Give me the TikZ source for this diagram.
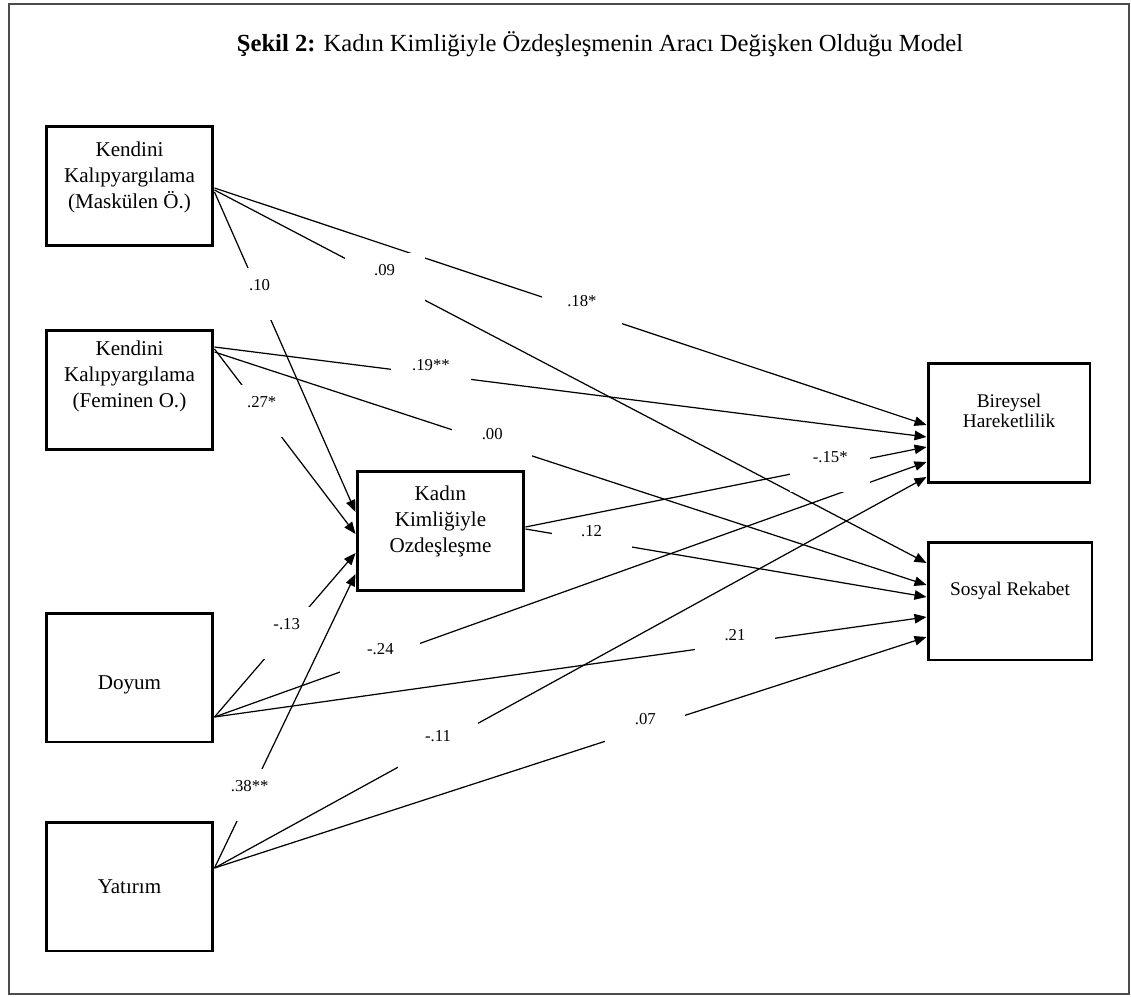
\documentclass[tikz,border=0pt]{standalone}
\usepackage{fontspec}
\setmainfont{Liberation Serif}
\usetikzlibrary{arrows.meta}

\begin{document}
\begin{tikzpicture}[
    x=0.02cm, y=-0.02cm,
    block/.style={draw, line width=1.7pt, minimum width=3.34cm, minimum height=2.4cm, align=center, font=\fontsize{12}{14.8}\selectfont},
    outcome/.style={block, minimum width=3.24cm, font=\fontsize{11}{11.5}\selectfont},
    link/.style={-{Triangle[length=0.24cm, width=0.19cm]}, line width=0.7pt},
    coef/.style={fill=white, inner sep=0pt, minimum width=1.6cm, minimum height=1.04cm, text depth=0.36cm, font=\fontsize{9.5}{11}\selectfont}
]
    % Frame and title
    \useasboundingbox (0,0) rectangle (1131,996);
    \draw[black!70, line width=1.2pt] (9,4) rectangle (1129,994);
    \node[font=\fontsize{14}{16}\selectfont] (title) at (600,44) {\textbf{Şekil 2:} Kadın Kimliğiyle Özdeşleşmenin Aracı Değişken Olduğu Model};

    % Predictors (left side)
    \node[block, text depth=0.42cm] (km) at (129.5,186) {Kendini\\Kalıpyargılama\\(Maskülen Ö.)};
    \node[block, text depth=0.62cm] (kf) at (129.5,390) {Kendini\\Kalıpyargılama\\(Feminen O.)};
    \node[block, minimum height=2.58cm, text height=0.57cm] (doyum) at (129.5,677.5) {Doyum};
    \node[block, minimum height=2.58cm] (yatirim) at (129.5,886.5) {Yatırım};

    % Mediator
    \node[block, text depth=0.48cm] (kadin) at (440.5,531) {Kadın\\Kimliğiyle\\Ozdeşleşme};

    % Outcomes (right side)
    \node[outcome, text depth=0.48cm] (bireysel) at (1009,423) {Bireysel\\Hareketlilik};
    \node[outcome, minimum width=3.28cm, minimum height=2.36cm, text depth=0.48cm] (sosyal) at (1010,601) {Sosyal Rekabet};

    % Paths
    \draw[link] (km.east |- 0,188) -- node[coef, pos=0.516] {.18*} (bireysel.west |- 0,425);
    \draw[link] (km.east |- 0,190) -- node[coef, pos=0.239] {.09} (sosyal.west |- 0,563);
    \draw[link] (kf.east |- 0,349) -- node[coef, pos=0.335] {.27*} (kadin.west |- 0,534);
    \draw[link] (km.east |- 0,192) -- node[coef, pos=0.32] {.10} (kadin.west |- 0,512);
    \draw[link] (kf.east |- 0,347) -- node[coef, pos=0.304] {.19**} (bireysel.west |- 0,437);
    \draw[link] (kf.east |- 0,352) -- node[coef, pos=0.39] {.00} (sosyal.west |- 0,585);
    \draw[link] (kadin.east |- 0,529) -- node[coef, pos=0.165] {.12} (sosyal.west |- 0,597);
    \draw[link] (doyum.east |- 0,717) -- node[coef, pos=0.233] {-.24} (bireysel.west |- 0,462);
    \draw[link] (kadin.east |- 0,527) -- node[coef, pos=0.76] {-.15*} (bireysel.west |- 0,447);
    \draw[link] (doyum.east |- 0,717) -- node[coef, pos=0.512] {-.13} (kadin.west |- 0,553);
    \draw[link] (yatirim.east |- 0,868) -- node[coef, pos=0.25] {.38**} (kadin.west |- 0,574);
    \draw[link] (doyum.east |- 0,717) -- node[coef, pos=0.731] {.21} (sosyal.west |- 0,617);
    \draw[link] (yatirim.east |- 0,868) -- node[coef, pos=0.314] {-.11} (bireysel.west |- 0,477);
    \draw[link] (yatirim.east |- 0,868) -- node[coef, pos=0.605] {.07} (sosyal.west |- 0,637);
\end{tikzpicture}
\end{document}
